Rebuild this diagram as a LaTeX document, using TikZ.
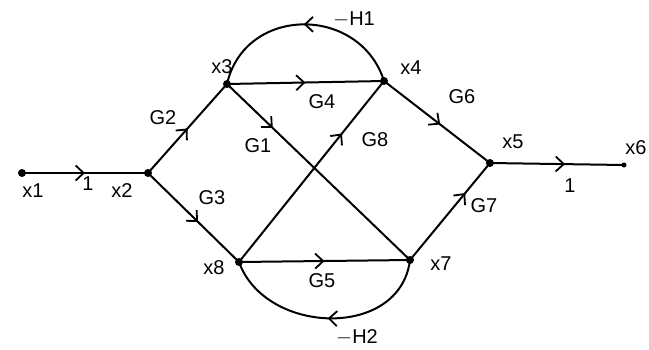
\documentclass[tikz,border=0pt]{standalone}
\usepackage{fontspec}
\setmainfont{Liberation Sans}
\usetikzlibrary{decorations.markings,arrows.meta}
\begin{document}
\begin{tikzpicture}[x=1pt,y=-1pt,line width=2pt,
  vtx/.style={circle,fill=black,inner sep=0pt,minimum size=8pt},
  lbl/.style={font=\fontsize{20}{22}\selectfont,inner sep=0pt},
  br/.style={draw=black,postaction={decorate},decoration={markings,mark=at position #1 with {\arrow{Straight Barb[length=8pt,width=15pt,line width=1.8pt]}}}},
  br/.default=0.5]
\useasboundingbox (0,0) rectangle (649,349);
\node[vtx] (x1) at (22,173) {};
\node[vtx] (x2) at (148,173) {};
\node[vtx] (x3) at (227,84) {};
\node[vtx] (x4) at (384,81) {};
\node[vtx] (x5) at (490,163) {};
\node[vtx,minimum size=5pt] (x6) at (624,165) {};
\node[vtx] (x7) at (410,260) {};
\node[vtx] (x8) at (239,262) {};

\draw[br=0.5] (x1.center) -- (x2.center);
\draw[br=0.5] (x2.center) -- (x3.center);
\draw[br=0.55] (x2.center) -- (x8.center);
\draw[br=0.5] (x3.center) -- (x4.center);
\draw[br=0.25] (x3.center) -- (x7.center);
\draw[br=0.71] (x8.center) -- (x4.center);
\draw[br=0.5] (x8.center) -- (x7.center);
\draw[br=0.53] (x4.center) -- (x5.center);
\draw[br=0.69] (x7.center) -- (x5.center);
\draw[br=0.56] (x5.center) -- (x6.center);
\draw[br=0.5] (x4.center) .. controls (360,5) and (245,5) .. (x3.center);
\draw[br=0.5] (x7.center) .. controls (400,340) and (265,335) .. (x8.center);

\node[lbl] (l1) at (33,191) {x1};
\node[lbl] (l2) at (88,184) {1};
\node[lbl] (l3) at (122,191) {x2};
\node[lbl] (l4) at (163,118) {G2};
\node[lbl] (l5) at (212,198) {G3};
\node[lbl] (l6) at (222,67) {x3};
\node[lbl] (l7) at (322,102) {G4};
\node[lbl] (l8) at (411,68) {x4};
\node[lbl] (l9) at (462,97) {G6};
\node[lbl] (l10) at (513,142) {x5};
\node[lbl] (l11) at (636,148) {x6};
\node[lbl] (l12) at (570,186) {1};
\node[lbl] (l13) at (258,146) {G1};
\node[lbl] (l14) at (375,140) {G8};
\node[lbl] (l15) at (484,206) {G7};
\node[lbl] (l16) at (441,264) {x7};
\node[lbl] (l17) at (214,268) {x8};
\node[lbl] (l18) at (322,281) {G5};
\node[lbl] (l19) at (354,19) {$-$H1};
\node[lbl] (l20) at (357,337) {$-$H2};
\end{tikzpicture}
\end{document}
